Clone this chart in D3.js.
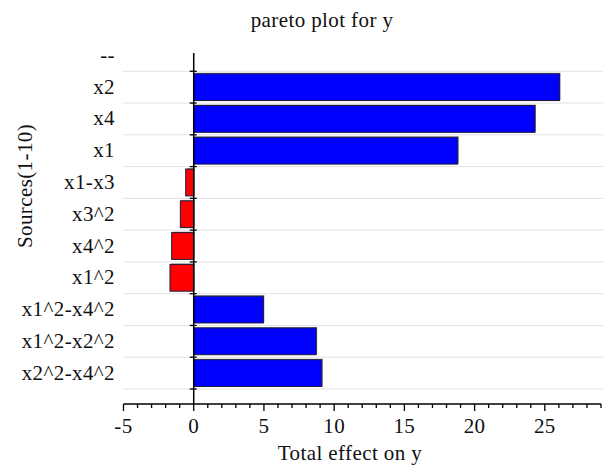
<!DOCTYPE html>
<html>
<head>
<meta charset="utf-8">
<script src="https://d3js.org/d3.v7.min.js"></script>
</head>
<body style="margin:0; background:#fff">
<script>
// sources, top to bottom ("--" is an empty slot)
var sources = ["--", "x2", "x4", "x1", "x1-x3", "x3^2", "x4^2", "x1^2",
               "x1^2-x4^2", "x1^2-x2^2", "x2^2-x4^2"];
// total effect of each source on y
var effects = [null, 26.05, 24.3, 18.8, -0.57, -0.95, -1.57, -1.69,
               4.96, 8.72, 9.12];
var xTicks = [-5, 0, 5, 10, 15, 20, 25];

var W = 603, H = 468;
var FONT = "Liberation Serif, Times New Roman, serif";
var svg = d3.select("body").append("svg").attr("width", W).attr("height", H);

function label(sel) {
  return sel.attr("font-family", FONT)
    .attr("font-size", 21)
    .attr("letter-spacing", 0.4)
    .attr("fill", "#111");
}

var x = d3.scaleLinear().domain([-5, 29]).range([123.5, 601]);
var y = d3.scaleBand().domain(sources).range([39.5, 389]);
var axisY = 404;

var rows = sources.map(function (s, i) { return { name: s, v: effects[i] }; });

// dotted gridlines at the bottom of every band
svg.append("g").selectAll("line")
  .data(sources)
  .enter().append("line")
    .attr("x1", x(-5)).attr("x2", W)
    .attr("y1", function (d) { return y(d) + y.bandwidth(); })
    .attr("y2", function (d) { return y(d) + y.bandwidth(); })
    .attr("stroke", "#c4c4c4")
    .attr("stroke-dasharray", "1,1");

// bars, with a faint grey shadow
var bars = rows.filter(function (d) { return d.v !== null; });
svg.append("g").selectAll("rect")
  .data(bars)
  .enter().append("rect")
    .attr("x", function (d) { return x(Math.min(0, d.v)) + 1; })
    .attr("y", function (d) { return y(d.name) + 1.5; })
    .attr("width", function (d) { return Math.abs(x(d.v) - x(0)); })
    .attr("height", y.bandwidth() - 4.5)
    .attr("fill", "#9a9a9a");
svg.append("g").selectAll("rect")
  .data(bars)
  .enter().append("rect")
    .attr("x", function (d) { return x(Math.min(0, d.v)); })
    .attr("y", function (d) { return y(d.name) + 2.5; })
    .attr("width", function (d) { return Math.abs(x(d.v) - x(0)); })
    .attr("height", y.bandwidth() - 5)
    .attr("fill", function (d) { return d.v < 0 ? "#ff0000" : "#0000ff"; })
    .attr("stroke", "#1a1a3a")
    .attr("stroke-width", 1);

// zero line with small ticks
svg.append("line")
  .attr("x1", x(0)).attr("x2", x(0))
  .attr("y1", 53).attr("y2", axisY)
  .attr("stroke", "#000").attr("stroke-width", 1.5);
svg.append("g").selectAll("line")
  .data(sources)
  .enter().append("line")
    .attr("x1", x(0) - 4).attr("x2", x(0) + 3)
    .attr("y1", function (d) { return y(d) + y.bandwidth(); })
    .attr("y2", function (d) { return y(d) + y.bandwidth(); })
    .attr("stroke", "#000").attr("stroke-width", 1.3);

// category labels
svg.append("g").selectAll("text")
  .data(sources)
  .enter().append("text")
    .attr("x", 115)
    .attr("y", function (d) { return y(d) + y.bandwidth() / 2 + 6.5; })
    .attr("text-anchor", "end")
    .call(label)
    .text(function (d) { return d; });

// x axis
var xAxis = svg.append("g").attr("transform", "translate(0," + axisY + ")");
xAxis.append("line")
  .attr("x1", x(-5)).attr("x2", 601)
  .attr("stroke", "#000").attr("stroke-width", 1.5);
xAxis.selectAll("line.tick")
  .data(d3.range(-5, 30))
  .enter().append("line")
    .attr("x1", function (d) { return x(d); })
    .attr("x2", function (d) { return x(d); })
    .attr("y1", 0)
    .attr("y2", function (d) { return d % 5 === 0 ? 7 : 4; })
    .attr("stroke", "#000").attr("stroke-width", 1.3);
xAxis.selectAll("text")
  .data(xTicks)
  .enter().append("text")
    .attr("x", function (d) { return x(d); })
    .attr("y", 29)
    .attr("text-anchor", "middle")
    .call(label)
    .text(function (d) { return d; });

// titles
svg.append("text")
  .attr("x", 322).attr("y", 27)
  .attr("text-anchor", "middle")
  .call(label)
  .text("pareto plot for y");
svg.append("text")
  .attr("x", 350).attr("y", 460)
  .attr("text-anchor", "middle")
  .call(label)
  .text("Total effect on y");
svg.append("text")
  .attr("transform", "translate(32,186) rotate(-90)")
  .attr("text-anchor", "middle")
  .call(label)
  .text("Sources(1-10)");
</script>
</body>
</html>
